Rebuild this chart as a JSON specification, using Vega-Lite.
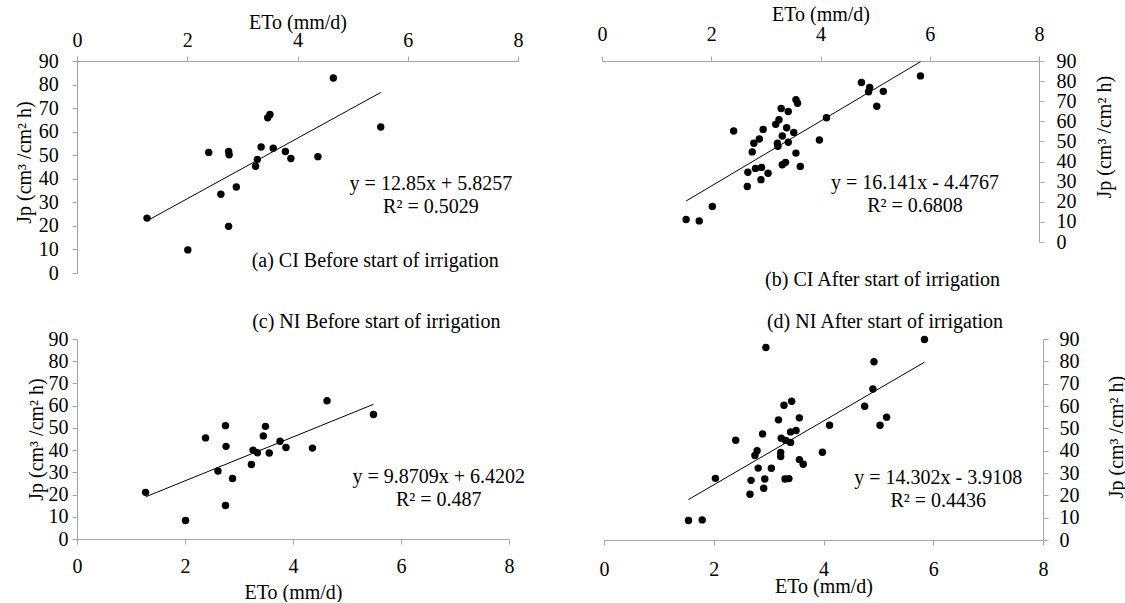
{
  "$schema": "https://vega.github.io/schema/vega-lite/v6.json",
  "background": "white",
  "padding": {"left": 14, "top": 4, "right": 0, "bottom": 0},
  "config": {
    "font": "Liberation Serif",
    "view": {"stroke": null},
    "axis": {
      "labelFont": "Liberation Serif", "titleFont": "Liberation Serif",
      "labelFontSize": 20, "titleFontSize": 20, "titleFontWeight": "normal",
      "labelColor": "#000000", "titleColor": "#000000",
      "domainColor": "#a6a6a6", "tickColor": "#a6a6a6", "tickSize": 5,
      "grid": false, "labelOverlap": false, "labelFlush": false, "labelBound": false
    },
    "title": {"font": "Liberation Serif", "fontSize": 20, "fontWeight": "normal", "color": "#000000", "frame": "group"},
    "text": {"font": "Liberation Serif", "fontSize": 20, "color": "#000000"}
  },
  "datasets": {
    "a": [
      {"eto": 1.27, "jp": 23.3}, {"eto": 2.01, "jp": 9.8}, {"eto": 2.39, "jp": 51.2}, {"eto": 2.75, "jp": 51.6},
      {"eto": 2.76, "jp": 50.2}, {"eto": 2.61, "jp": 33.4}, {"eto": 2.75, "jp": 19.8}, {"eto": 2.89, "jp": 36.5},
      {"eto": 3.24, "jp": 45.3}, {"eto": 3.27, "jp": 48.2}, {"eto": 3.34, "jp": 53.5}, {"eto": 3.46, "jp": 65.9},
      {"eto": 3.50, "jp": 67.3}, {"eto": 3.56, "jp": 53.0}, {"eto": 3.78, "jp": 51.6}, {"eto": 3.88, "jp": 48.6},
      {"eto": 4.37, "jp": 49.4}, {"eto": 4.65, "jp": 82.8}, {"eto": 5.51, "jp": 62.0}
    ],
    "a_line": [{"eto": 1.27, "jp": 22.15}, {"eto": 5.51, "jp": 76.63}],
    "b": [
      {"eto": 1.54, "jp": 11.2}, {"eto": 1.78, "jp": 10.5}, {"eto": 2.02, "jp": 17.7}, {"eto": 2.41, "jp": 55.2},
      {"eto": 2.66, "jp": 27.6}, {"eto": 2.67, "jp": 34.7}, {"eto": 2.75, "jp": 44.8}, {"eto": 2.78, "jp": 49.1},
      {"eto": 2.88, "jp": 51.2}, {"eto": 2.81, "jp": 36.6}, {"eto": 2.92, "jp": 37.1}, {"eto": 2.91, "jp": 31.0},
      {"eto": 3.04, "jp": 34.2}, {"eto": 2.95, "jp": 56.0}, {"eto": 3.18, "jp": 58.5}, {"eto": 3.24, "jp": 60.8},
      {"eto": 3.28, "jp": 66.4}, {"eto": 3.41, "jp": 64.9}, {"eto": 3.38, "jp": 56.8}, {"eto": 3.30, "jp": 52.7},
      {"eto": 3.21, "jp": 49.1}, {"eto": 3.22, "jp": 47.6}, {"eto": 3.41, "jp": 49.6}, {"eto": 3.51, "jp": 54.5},
      {"eto": 3.55, "jp": 70.8}, {"eto": 3.58, "jp": 69.0}, {"eto": 3.55, "jp": 44.2}, {"eto": 3.30, "jp": 38.4},
      {"eto": 3.36, "jp": 39.6}, {"eto": 3.63, "jp": 37.6}, {"eto": 3.98, "jp": 50.7}, {"eto": 4.11, "jp": 61.8},
      {"eto": 4.75, "jp": 79.3}, {"eto": 4.90, "jp": 76.8}, {"eto": 4.88, "jp": 74.7}, {"eto": 5.15, "jp": 74.9},
      {"eto": 5.03, "jp": 67.5}, {"eto": 5.83, "jp": 82.6}
    ],
    "b_line": [{"eto": 1.54, "jp": 20.38}, {"eto": 5.83, "jp": 89.63}],
    "c": [
      {"eto": 1.27, "jp": 21.0}, {"eto": 2.01, "jp": 8.3}, {"eto": 2.38, "jp": 45.5}, {"eto": 2.61, "jp": 30.6},
      {"eto": 2.75, "jp": 51.0}, {"eto": 2.76, "jp": 41.7}, {"eto": 2.75, "jp": 15.1}, {"eto": 2.88, "jp": 27.2},
      {"eto": 3.23, "jp": 33.5}, {"eto": 3.26, "jp": 40.0}, {"eto": 3.34, "jp": 38.8}, {"eto": 3.45, "jp": 46.4},
      {"eto": 3.49, "jp": 50.7}, {"eto": 3.56, "jp": 38.7}, {"eto": 3.76, "jp": 44.0}, {"eto": 3.87, "jp": 41.2},
      {"eto": 4.36, "jp": 40.9}, {"eto": 4.63, "jp": 62.2}, {"eto": 5.49, "jp": 56.0}
    ],
    "c_line": [{"eto": 1.27, "jp": 18.96}, {"eto": 5.49, "jp": 60.61}],
    "d": [
      {"eto": 1.54, "jp": 8.7}, {"eto": 1.79, "jp": 9.0}, {"eto": 2.03, "jp": 27.6}, {"eto": 2.40, "jp": 44.7},
      {"eto": 2.66, "jp": 20.5}, {"eto": 2.68, "jp": 26.7}, {"eto": 2.75, "jp": 37.8}, {"eto": 2.79, "jp": 40.0},
      {"eto": 2.81, "jp": 32.2}, {"eto": 2.89, "jp": 47.5}, {"eto": 2.91, "jp": 23.2}, {"eto": 2.93, "jp": 27.3},
      {"eto": 2.95, "jp": 86.2}, {"eto": 3.05, "jp": 32.1}, {"eto": 3.18, "jp": 53.8}, {"eto": 3.22, "jp": 39.2},
      {"eto": 3.22, "jp": 37.4}, {"eto": 3.23, "jp": 45.6}, {"eto": 3.28, "jp": 60.3}, {"eto": 3.30, "jp": 27.3},
      {"eto": 3.37, "jp": 27.5}, {"eto": 3.31, "jp": 44.6}, {"eto": 3.40, "jp": 43.7}, {"eto": 3.42, "jp": 62.1},
      {"eto": 3.40, "jp": 48.4}, {"eto": 3.50, "jp": 49.0}, {"eto": 3.56, "jp": 54.7}, {"eto": 3.56, "jp": 36.0},
      {"eto": 3.63, "jp": 33.9}, {"eto": 3.98, "jp": 39.3}, {"eto": 4.11, "jp": 51.4}, {"eto": 4.75, "jp": 59.9},
      {"eto": 4.90, "jp": 67.6}, {"eto": 4.92, "jp": 79.8}, {"eto": 5.03, "jp": 51.4}, {"eto": 5.15, "jp": 55.0},
      {"eto": 5.84, "jp": 89.8}
    ],
    "d_line": [{"eto": 1.54, "jp": 18.12}, {"eto": 5.84, "jp": 79.61}]
  },
  "vconcat": [
    {
      "spacing": 74,
      "hconcat": [
        {
          "width": 441, "height": 212,
          "layer": [
            {
              "data": {"name": "a"},
              "mark": {"type": "circle", "size": 55, "color": "#000000", "opacity": 1},
              "encoding": {
                "x": {"field": "eto", "type": "quantitative", "scale": {"domain": [0, 8], "nice": false},
                      "axis": {"orient": "top", "title": "ETo (mm/d)", "values": [0, 2, 4, 6, 8], "format": "d", "labelOverlap": false, "labelPadding": 6, "titlePadding": -2}},
                "y": {"field": "jp", "type": "quantitative", "scale": {"domain": [0, 90], "nice": false},
                      "axis": {"orient": "left", "title": "Jp (cm³ /cm²  h)", "values": [0, 10, 20, 30, 40, 50, 60, 70, 80, 90], "format": "d", "labelOverlap": false, "labelPadding": 13.7, "titlePadding": 4, "titleY": 101}}
              }
            },
            {
              "data": {"name": "a_line"},
              "mark": {"type": "line", "color": "#000000", "strokeWidth": 1},
              "encoding": {
                "x": {"field": "eto", "type": "quantitative", "scale": {"domain": [0, 8], "nice": false},
                      "axis": {"orient": "top", "title": "ETo (mm/d)", "values": [0, 2, 4, 6, 8], "format": "d", "labelOverlap": false, "labelPadding": 6, "titlePadding": -2}},
                "y": {"field": "jp", "type": "quantitative", "scale": {"domain": [0, 90], "nice": false},
                      "axis": {"orient": "left", "title": "Jp (cm³ /cm²  h)", "values": [0, 10, 20, 30, 40, 50, 60, 70, 80, 90], "format": "d", "labelOverlap": false, "labelPadding": 13.7, "titlePadding": 4, "titleY": 101}}
              }
            },
            {
              "data": {"values": [{}]},
              "mark": {"type": "text", "text": ["y = 12.85x + 5.8257", "R² = 0.5029"], "lineHeight": 23, "align": "center", "baseline": "alphabetic"},
              "encoding": {
                "x": {"datum": 6.42, "type": "quantitative", "scale": {"domain": [0, 8], "nice": false},
                      "axis": {"orient": "top", "title": "ETo (mm/d)", "values": [0, 2, 4, 6, 8], "format": "d", "labelOverlap": false, "labelPadding": 6, "titlePadding": -2}},
                "y": {"datum": 35.4, "type": "quantitative", "scale": {"domain": [0, 90], "nice": false},
                      "axis": {"orient": "left", "title": "Jp (cm³ /cm²  h)", "values": [0, 10, 20, 30, 40, 50, 60, 70, 80, 90], "format": "d", "labelOverlap": false, "labelPadding": 13.7, "titlePadding": 4, "titleY": 101}}
              }
            },
            {
              "data": {"values": [{}]},
              "mark": {"type": "text", "text": "(a) CI Before start of irrigation", "align": "center", "baseline": "alphabetic"},
              "encoding": {
                "x": {"datum": 5.41, "type": "quantitative", "scale": {"domain": [0, 8], "nice": false},
                      "axis": {"orient": "top", "title": "ETo (mm/d)", "values": [0, 2, 4, 6, 8], "format": "d", "labelOverlap": false, "labelPadding": 6, "titlePadding": -2}},
                "y": {"datum": 2.57, "type": "quantitative", "scale": {"domain": [0, 90], "nice": false},
                      "axis": {"orient": "left", "title": "Jp (cm³ /cm²  h)", "values": [0, 10, 20, 30, 40, 50, 60, 70, 80, 90], "format": "d", "labelOverlap": false, "labelPadding": 13.7, "titlePadding": 4, "titleY": 101}}
              }
            }
          ]
        },
        {
          "width": 437, "height": 181,
          "title": {"text": "(b) CI After start of irrigation", "orient": "bottom", "anchor": "end", "dx": -39, "offset": 18},
          "layer": [
            {
              "data": {"name": "b"},
              "mark": {"type": "circle", "size": 55, "color": "#000000", "opacity": 1},
              "encoding": {
                "x": {"field": "eto", "type": "quantitative", "scale": {"domain": [0, 8], "nice": false},
                      "axis": {"orient": "top", "title": "ETo (mm/d)", "values": [0, 2, 4, 6, 8], "format": "d", "labelOverlap": false, "labelPadding": 12, "titlePadding": 0}},
                "y": {"field": "jp", "type": "quantitative", "scale": {"domain": [0, 90], "nice": false},
                      "axis": {"orient": "right", "title": "Jp (cm³ /cm²  h)", "values": [0, 10, 20, 30, 40, 50, 60, 70, 80, 90], "format": "d", "labelOverlap": false, "labelPadding": 12, "titlePadding": 18, "titleAngle": 270, "titleBaseline": "top", "titleY": 75.7}}
              }
            },
            {
              "data": {"name": "b_line"},
              "mark": {"type": "line", "color": "#000000", "strokeWidth": 1},
              "encoding": {
                "x": {"field": "eto", "type": "quantitative", "scale": {"domain": [0, 8], "nice": false},
                      "axis": {"orient": "top", "title": "ETo (mm/d)", "values": [0, 2, 4, 6, 8], "format": "d", "labelOverlap": false, "labelPadding": 12, "titlePadding": 0}},
                "y": {"field": "jp", "type": "quantitative", "scale": {"domain": [0, 90], "nice": false},
                      "axis": {"orient": "right", "title": "Jp (cm³ /cm²  h)", "values": [0, 10, 20, 30, 40, 50, 60, 70, 80, 90], "format": "d", "labelOverlap": false, "labelPadding": 12, "titlePadding": 18, "titleAngle": 270, "titleBaseline": "top", "titleY": 75.7}}
              }
            },
            {
              "data": {"values": [{}]},
              "mark": {"type": "text", "text": ["y = 16.141x - 4.4767", "R² = 0.6808"], "lineHeight": 23, "align": "center", "baseline": "alphabetic"},
              "encoding": {
                "x": {"datum": 5.73, "type": "quantitative", "scale": {"domain": [0, 8], "nice": false},
                      "axis": {"orient": "top", "title": "ETo (mm/d)", "values": [0, 2, 4, 6, 8], "format": "d", "labelOverlap": false, "labelPadding": 12, "titlePadding": 0}},
                "y": {"datum": 26.2, "type": "quantitative", "scale": {"domain": [0, 90], "nice": false},
                      "axis": {"orient": "right", "title": "Jp (cm³ /cm²  h)", "values": [0, 10, 20, 30, 40, 50, 60, 70, 80, 90], "format": "d", "labelOverlap": false, "labelPadding": 12, "titlePadding": 18, "titleAngle": 270, "titleBaseline": "top", "titleY": 75.7}}
              }
            }
          ]
        }
      ]
    },
    {
      "spacing": 73,
      "hconcat": [
        {
          "width": 432, "height": 200,
          "title": {"text": "(c) NI Before start of irrigation", "anchor": "end", "dx": -8.6, "offset": -3},
          "layer": [
            {
              "data": {"name": "c"},
              "mark": {"type": "circle", "size": 55, "color": "#000000", "opacity": 1},
              "encoding": {
                "x": {"field": "eto", "type": "quantitative", "scale": {"domain": [0, 8], "nice": false},
                      "axis": {"orient": "bottom", "title": "ETo (mm/d)", "values": [0, 2, 4, 6, 8], "format": "d", "labelOverlap": false, "labelPadding": 12, "titlePadding": 6}},
                "y": {"field": "jp", "type": "quantitative", "scale": {"domain": [0, 90], "nice": false},
                      "axis": {"orient": "left", "title": "Jp (cm³ /cm²  h)", "values": [0, 10, 20, 30, 40, 50, 60, 70, 80, 90], "format": "d", "labelOverlap": false, "labelPadding": 4, "titlePadding": 2}}
              }
            },
            {
              "data": {"name": "c_line"},
              "mark": {"type": "line", "color": "#000000", "strokeWidth": 1},
              "encoding": {
                "x": {"field": "eto", "type": "quantitative", "scale": {"domain": [0, 8], "nice": false},
                      "axis": {"orient": "bottom", "title": "ETo (mm/d)", "values": [0, 2, 4, 6, 8], "format": "d", "labelOverlap": false, "labelPadding": 12, "titlePadding": 6}},
                "y": {"field": "jp", "type": "quantitative", "scale": {"domain": [0, 90], "nice": false},
                      "axis": {"orient": "left", "title": "Jp (cm³ /cm²  h)", "values": [0, 10, 20, 30, 40, 50, 60, 70, 80, 90], "format": "d", "labelOverlap": false, "labelPadding": 4, "titlePadding": 2}}
              }
            },
            {
              "data": {"values": [{}]},
              "mark": {"type": "text", "text": ["y = 9.8709x + 6.4202", "R² = 0.487"], "lineHeight": 23, "align": "center", "baseline": "alphabetic"},
              "encoding": {
                "x": {"datum": 6.70, "type": "quantitative", "scale": {"domain": [0, 8], "nice": false},
                      "axis": {"orient": "bottom", "title": "ETo (mm/d)", "values": [0, 2, 4, 6, 8], "format": "d", "labelOverlap": false, "labelPadding": 12, "titlePadding": 6}},
                "y": {"datum": 25.0, "type": "quantitative", "scale": {"domain": [0, 90], "nice": false},
                      "axis": {"orient": "left", "title": "Jp (cm³ /cm²  h)", "values": [0, 10, 20, 30, 40, 50, 60, 70, 80, 90], "format": "d", "labelOverlap": false, "labelPadding": 4, "titlePadding": 2}}
              }
            }
          ]
        },
        {
          "width": 439, "height": 201,
          "title": {"text": "(d) NI After start of irrigation", "anchor": "end", "dx": -40, "offset": -3},
          "layer": [
            {
              "data": {"name": "d"},
              "mark": {"type": "circle", "size": 55, "color": "#000000", "opacity": 1},
              "encoding": {
                "x": {"field": "eto", "type": "quantitative", "scale": {"domain": [0, 8], "nice": false},
                      "axis": {"orient": "bottom", "title": "ETo (mm/d)", "values": [0, 2, 4, 6, 8], "format": "d", "labelOverlap": false, "labelPadding": 14.5, "titlePadding": -3}},
                "y": {"field": "jp", "type": "quantitative", "scale": {"domain": [0, 90], "nice": false},
                      "axis": {"orient": "right", "title": "Jp (cm³ /cm²  h)", "values": [0, 10, 20, 30, 40, 50, 60, 70, 80, 90], "format": "d", "labelOverlap": false, "labelPadding": 11, "titlePadding": 27, "titleAngle": 270, "titleBaseline": "top", "titleY": 97.5}}
              }
            },
            {
              "data": {"name": "d_line"},
              "mark": {"type": "line", "color": "#000000", "strokeWidth": 1},
              "encoding": {
                "x": {"field": "eto", "type": "quantitative", "scale": {"domain": [0, 8], "nice": false},
                      "axis": {"orient": "bottom", "title": "ETo (mm/d)", "values": [0, 2, 4, 6, 8], "format": "d", "labelOverlap": false, "labelPadding": 14.5, "titlePadding": -3}},
                "y": {"field": "jp", "type": "quantitative", "scale": {"domain": [0, 90], "nice": false},
                      "axis": {"orient": "right", "title": "Jp (cm³ /cm²  h)", "values": [0, 10, 20, 30, 40, 50, 60, 70, 80, 90], "format": "d", "labelOverlap": false, "labelPadding": 11, "titlePadding": 27, "titleAngle": 270, "titleBaseline": "top", "titleY": 97.5}}
              }
            },
            {
              "data": {"values": [{}]},
              "mark": {"type": "text", "text": ["y = 14.302x - 3.9108", "R² = 0.4436"], "lineHeight": 23, "align": "center", "baseline": "alphabetic"},
              "encoding": {
                "x": {"datum": 6.09, "type": "quantitative", "scale": {"domain": [0, 8], "nice": false},
                      "axis": {"orient": "bottom", "title": "ETo (mm/d)", "values": [0, 2, 4, 6, 8], "format": "d", "labelOverlap": false, "labelPadding": 14.5, "titlePadding": -3}},
                "y": {"datum": 24.9, "type": "quantitative", "scale": {"domain": [0, 90], "nice": false},
                      "axis": {"orient": "right", "title": "Jp (cm³ /cm²  h)", "values": [0, 10, 20, 30, 40, 50, 60, 70, 80, 90], "format": "d", "labelOverlap": false, "labelPadding": 11, "titlePadding": 27, "titleAngle": 270, "titleBaseline": "top", "titleY": 97.5}}
              }
            }
          ]
        }
      ]
    }
  ],
  "spacing": 22
}
